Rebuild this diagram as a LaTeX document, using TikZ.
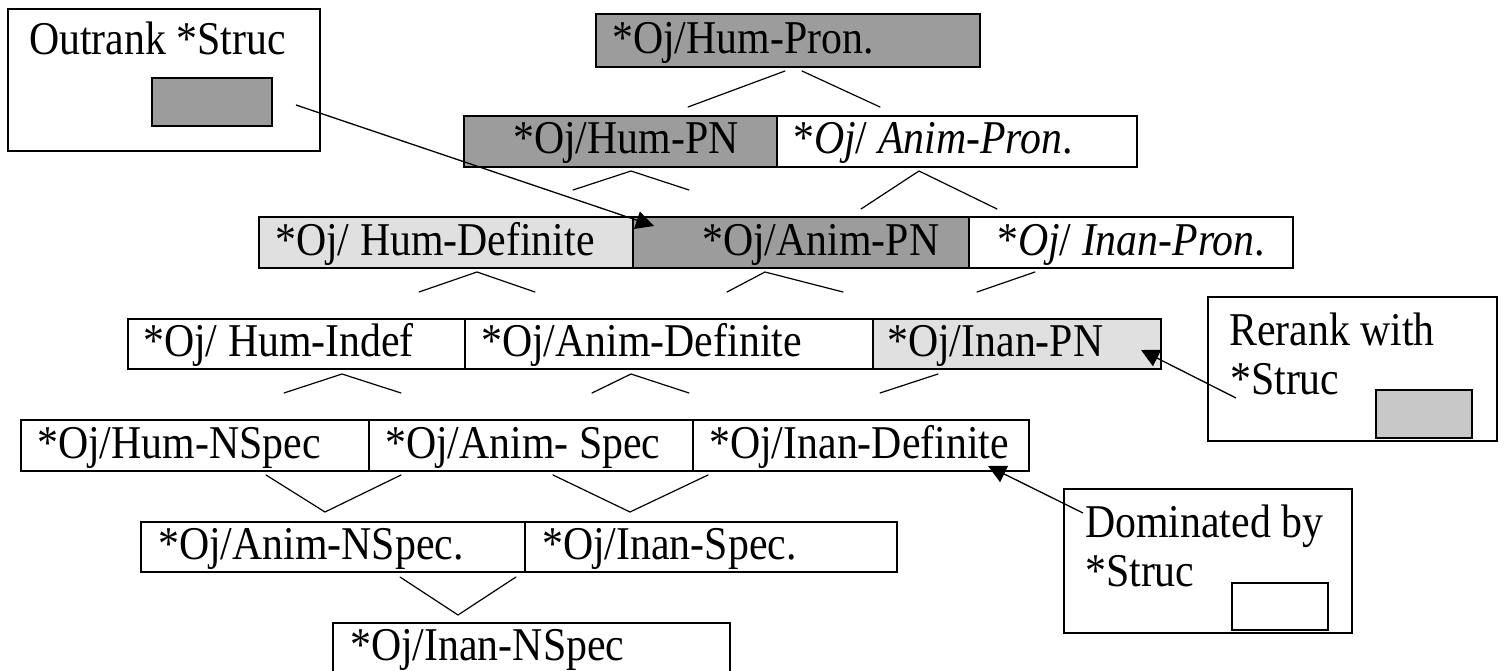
\documentclass[tikz,border=0pt]{standalone}
\usepackage{fontspec}
\setmainfont{Liberation Serif}[FakeStretch=0.89]
\usetikzlibrary{arrows.meta}

\definecolor{rankdark}{HTML}{9C9C9C}
\definecolor{ranklight}{HTML}{E0E0E0}
\definecolor{keymid}{HTML}{C8C8C8}

\tikzset{
  cell/.style={draw=black, line width=1.8pt, anchor=north west, inner sep=0pt, outer sep=0pt},
  celltext/.style={anchor=base west, inner sep=0pt, font=\fontsize{47}{49}\selectfont},
  keybox/.style={draw=black, line width=1.3pt, anchor=north west, inner sep=0pt, outer sep=0pt},
  fork/.style={line width=1.2pt, line cap=round},
  pointer/.style={line width=1.3pt, -{Triangle[length=18pt,width=18pt]}},
}

% one ranked constraint cell: name, x1, y1, x2, y2, fill, text x, text
\newcommand\rankcell[8]{%
  \pgfmathsetmacro\cellw{#4-#2}%
  \pgfmathsetmacro\cellh{#5-#3}%
  \pgfmathsetmacro\cellby{#5-13}%
  \node[cell, fill=#6, minimum width=\cellw pt, minimum height=\cellh pt] (#1) at (#2,#3) {};
  \node[celltext] (#1-label) at (#7,\cellby) {#8};
}

\begin{document}
\begin{tikzpicture}[x=1pt, y=-1pt]
\useasboundingbox (0,0) rectangle (1504,671);

% ranked hierarchy, row by row
\rankcell{humpron}{596}{14}{980}{67}{rankdark}{612}{*Oj/Hum-Pron.}

\rankcell{humpn}{464}{116}{777}{167}{rankdark}{513}{*Oj/Hum-PN}
\rankcell{animpron}{777}{116}{1137}{167}{white}{793}{*\textit{Oj}/ \textit{Anim-Pron}.}

\rankcell{humdef}{259}{217}{633}{268}{ranklight}{275}{*Oj/ Hum-Definite}
\rankcell{animpn}{633}{217}{969}{268}{rankdark}{702}{*Oj/Anim-PN}
\rankcell{inanpron}{969}{217}{1293}{268}{white}{997}{*\textit{Oj}/ \textit{Inan-Pron}.}

\rankcell{humindef}{128}{319}{465}{369}{white}{143}{*Oj/ Hum-Indef}
\rankcell{animdef}{465}{319}{873}{369}{white}{481}{*Oj/Anim-Definite}
\rankcell{inanpn}{873}{319}{1161}{369}{ranklight}{887}{*Oj/Inan-PN}

\rankcell{humnspec}{21}{420}{369}{471}{white}{37}{*Oj/Hum-NSpec}
\rankcell{animspec}{369}{420}{693}{471}{white}{385}{*Oj/Anim- Spec}
\rankcell{inandef}{693}{420}{1029}{471}{white}{709}{*Oj/Inan-Definite}

\rankcell{animnspec}{141}{522}{525}{572}{white}{158}{*Oj/Anim-NSpec.}
\rankcell{inanspec}{525}{522}{897}{572}{white}{542}{*Oj/Inan-Spec.}

\rankcell{inannspec}{333}{623}{730}{673}{white}{350}{*Oj/Inan-NSpec}

% branch marks between rows
\coordinate (b1l) at (785,71);  \coordinate (b1le) at (688,107);
\coordinate (b1r) at (802,71);  \coordinate (b1re) at (880,107);
\draw[fork] (b1l) -- (b1le);
\draw[fork] (b1r) -- (b1re);

\coordinate (b2a) at (573,190); \coordinate (b2b) at (631,171); \coordinate (b2c) at (689,190);
\draw[fork] (b2a) -- (b2b) -- (b2c);
\coordinate (b3a) at (861,209); \coordinate (b3b) at (919,171); \coordinate (b3c) at (997,209);
\draw[fork] (b3a) -- (b3b) -- (b3c);

\coordinate (b4a) at (419,292); \coordinate (b4b) at (477,272); \coordinate (b4c) at (535,292);
\draw[fork] (b4a) -- (b4b) -- (b4c);
\coordinate (b5a) at (727,292); \coordinate (b5b) at (765,272); \coordinate (b5c) at (843,292);
\draw[fork] (b5a) -- (b5b) -- (b5c);
\coordinate (b6a) at (1035,272); \coordinate (b6b) at (977,292);
\draw[fork] (b6a) -- (b6b);

\coordinate (b7a) at (284,393); \coordinate (b7b) at (342,374); \coordinate (b7c) at (401,393);
\draw[fork] (b7a) -- (b7b) -- (b7c);
\coordinate (b8a) at (592,393); \coordinate (b8b) at (631,374); \coordinate (b8c) at (689,393);
\draw[fork] (b8a) -- (b8b) -- (b8c);
\coordinate (b9a) at (938,374); \coordinate (b9b) at (880,393);
\draw[fork] (b9a) -- (b9b);

\coordinate (v1a) at (266,475); \coordinate (v1b) at (325,512); \coordinate (v1c) at (401,475);
\draw[fork] (v1a) -- (v1b) -- (v1c);
\coordinate (v2a) at (553,475); \coordinate (v2b) at (630,512); \coordinate (v2c) at (708,475);
\draw[fork] (v2a) -- (v2b) -- (v2c);
\coordinate (v3a) at (400,577); \coordinate (v3b) at (458,615); \coordinate (v3c) at (516,577);
\draw[fork] (v3a) -- (v3b) -- (v3c);

% legend boxes
\node[keybox, minimum width=312pt, minimum height=142pt] (outrank) at (8,9) {};
\node[keybox, fill=rankdark, minimum width=120pt, minimum height=48pt] (outrankkey) at (152,78) {};
\node[celltext] (outrank-label) at (29,55) {Outrank *Struc};

\node[keybox, minimum width=289pt, minimum height=144pt] (rerank) at (1208,297) {};
\node[keybox, fill=keymid, minimum width=96pt, minimum height=48pt] (rerankkey) at (1376,390) {};
\node[celltext] (rerank-label1) at (1229,345) {Rerank with};
\node[celltext] (rerank-label2) at (1230,394) {*Struc};

\node[keybox, minimum width=288pt, minimum height=144pt] (dominated) at (1064,489) {};
\node[keybox, fill=white, minimum width=96pt, minimum height=47pt] (dominatedkey) at (1232,583) {};
\node[celltext] (dominated-label1) at (1085,537) {Dominated by};
\node[celltext] (dominated-label2) at (1085,586) {*Struc};

% pointers from the legend boxes to the cells they describe
\coordinate (p1s) at (296,105);  \coordinate (p1e) at (654,226);
\coordinate (p2s) at (1236,398); \coordinate (p2e) at (1141,350);
\coordinate (p3s) at (1083,513); \coordinate (p3e) at (988,466);
\draw[pointer] (p1s) -- (p1e);
\draw[pointer] (p2s) -- (p2e);
\draw[pointer] (p3s) -- (p3e);
\end{tikzpicture}
\end{document}
